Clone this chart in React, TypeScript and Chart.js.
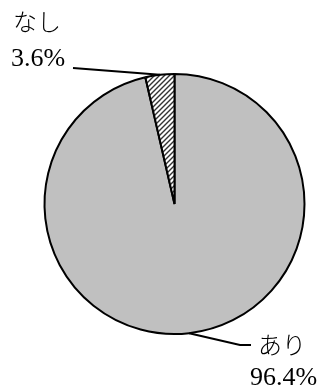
import React, { useEffect, useRef } from "react";
import { Chart, registerables } from "chart.js";

Chart.register(...registerables);

const categories = ["あり", "なし"];
const values = [96.4, 3.6];
const valueLabels = ["96.4%", "3.6%"];

function makeHatch(): CanvasPattern | string {
  const s = 5;
  const c = document.createElement("canvas");
  c.width = s;
  c.height = s;
  const g = c.getContext("2d");
  if (!g) return "#ffffff";
  g.fillStyle = "#ffffff";
  g.fillRect(0, 0, s, s);
  g.strokeStyle = "#333333";
  g.lineWidth = 1.4;
  g.beginPath();
  g.moveTo(-1, s + 1);
  g.lineTo(s + 1, -1);
  g.moveTo(-1, 1);
  g.lineTo(1, -1);
  g.moveTo(s - 1, s + 1);
  g.lineTo(s + 1, s - 1);
  g.stroke();
  const p = g.createPattern(c, "repeat");
  return p || "#ffffff";
}

const labelPlugin = {
  id: "pieLabels",
  afterDraw(chart: any) {
    const ctx = chart.ctx as CanvasRenderingContext2D;
    const meta = chart.getDatasetMeta(0);
    const pt = (i: number) => {
      const a = meta.data[i];
      const { x, y, startAngle, endAngle, outerRadius } = a.getProps(
        ["x", "y", "startAngle", "endAngle", "outerRadius"],
        true
      );
      const mid = (startAngle + endAngle) / 2;
      return { x: x + Math.cos(mid) * outerRadius, y: y + Math.sin(mid) * outerRadius };
    };
    ctx.save();
    ctx.strokeStyle = "#000000";
    ctx.lineWidth = 2;
    const p1 = pt(1);
    ctx.beginPath();
    ctx.moveTo(73, 68);
    ctx.lineTo(p1.x, p1.y);
    ctx.stroke();
    const p0 = pt(0);
    ctx.beginPath();
    ctx.moveTo(p0.x, p0.y);
    ctx.lineTo(240, 345);
    ctx.lineTo(251, 345);
    ctx.stroke();

    ctx.fillStyle = "#000000";
    ctx.textBaseline = "alphabetic";
    ctx.textAlign = "left";
    ctx.font = '300 24px "Noto Sans CJK JP", "Liberation Serif", serif';
    ctx.fillText(categories[1], 13, 31);
    ctx.fillText(categories[0], 258, 354);
    ctx.font = '26px "Liberation Serif", "Times New Roman", serif';
    ctx.fillText(valueLabels[1], 11, 66);
    ctx.fillText(valueLabels[0], 250, 385);
    ctx.restore();
  },
};

export default function App() {
  const ref = useRef<HTMLCanvasElement | null>(null);
  useEffect(() => {
    if (!ref.current) return;
    const hatch = makeHatch();
    const chart = new Chart(ref.current, {
      type: "pie",
      data: {
        labels: categories,
        datasets: [
          {
            data: values,
            backgroundColor: ["#c0c0c0", hatch as any],
            borderColor: "#000000",
            borderWidth: 2,
          },
        ],
      },
      options: {
        animation: false,
        responsive: true,
        maintainAspectRatio: false,
        layout: { padding: { left: 43.5, right: 15.5, top: 73, bottom: 52 } },
        plugins: {
          legend: { display: false },
          tooltip: { enabled: false },
          title: { display: false },
        },
      },
      plugins: [labelPlugin],
    });
    return () => chart.destroy();
  }, []);
  return (
    <div style={{ position: "absolute", left: 0, top: 0, width: 321, height: 387, background: "#ffffff" }}>
      <canvas ref={ref} />
    </div>
  );
}
